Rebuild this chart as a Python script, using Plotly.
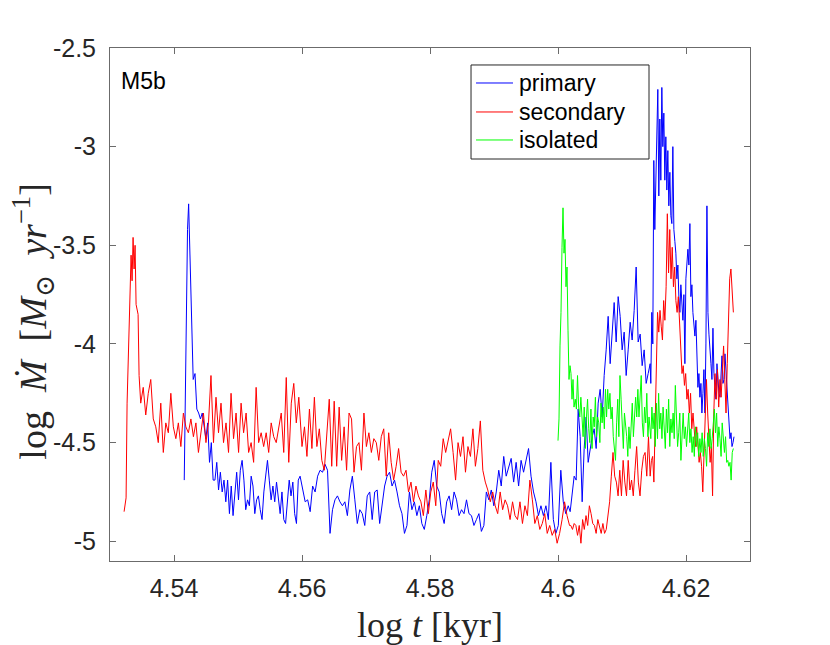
import numpy as np
import plotly.graph_objects as go

# ---- data: log t [kyr] segments and log Mdot values ----

# primary (blue)
t_primary = [(4.5416, 4.5428), (4.5430, 4.5597), (4.5605, 4.6016), (4.6019, 4.6144), (4.6145, 4.6275)]
primary_rise = [-4.69, -4.18, -3.67, -3.42, -3.29, -3.50, -3.67, -3.89]
primary_decay = [-4.18, -4.15, -4.33, -4.35, -4.38, -4.35, -4.42, -4.48, -4.40, -4.60,
                 -4.50, -4.69, -4.69, -4.60, -4.74, -4.65, -4.75, -4.69, -4.80, -4.69,
                 -4.86, -4.72, -4.87, -4.77, -4.65, -4.79, -4.64, -4.59, -4.69, -4.84,
                 -4.79, -4.82, -4.67, -4.72, -4.86, -4.79, -4.77, -4.84, -4.89, -4.75,
                 -4.65, -4.59, -4.69, -4.79, -4.72, -4.80, -4.70, -4.79, -4.86, -4.75,
                 -4.89, -4.91, -4.79, -4.69, -4.77, -4.70, -4.86, -4.91, -4.69, -4.67]
primary_low = [-4.80, -4.79, -4.85, -4.72, -4.75, -4.67, -4.64, -4.65, -4.61, -4.64,
               -4.96, -4.84, -4.79, -4.77, -4.80, -4.82, -4.80, -4.87, -4.74, -4.67,
               -4.79, -4.91, -4.84, -4.86, -4.92, -4.77, -4.75, -4.89, -4.75, -4.74,
               -4.91, -4.82, -4.72, -4.67, -4.65, -4.72, -4.69, -4.75, -4.82, -4.86,
               -4.96, -4.92, -4.75, -4.84, -4.80, -4.87, -4.82, -4.91, -4.94, -4.87,
               -4.79, -4.65, -4.59, -4.72, -4.75, -4.86, -4.91, -4.80, -4.77, -4.84,
               -4.75, -4.79, -4.87, -4.84, -4.86, -4.79, -4.86, -4.87, -4.92, -4.89,
               -4.86, -4.95, -4.92, -4.75, -4.79, -4.74, -4.82, -4.75, -4.64, -4.72,
               -4.57, -4.67, -4.62, -4.58, -4.70, -4.60, -4.72, -4.59, -4.65, -4.59,
               -4.53, -4.67, -4.75, -4.80, -4.87, -4.82, -4.87, -4.82, -4.89, -4.60,
               -4.89, -4.96, -4.92, -4.64, -4.80, -4.86, -4.82]
primary_climb = [-4.85, -4.74, -4.67, -4.69,
                 -4.33, -4.47, -4.80, -4.53, -4.37, -4.60, -4.53, -4.47, -4.43, -4.53,
                 -4.30, -4.23, -4.37, -4.16, -4.03, -3.86, -4.10, -3.91, -3.79, -3.99,
                 -3.76, -3.86, -4.03, -3.94, -4.16, -4.03, -3.89, -3.98, -3.83, -3.61,
                 -3.99, -3.95, -4.11, -4.03, -4.20, -4.15, -4.10]
primary_burst = [-4.20, -3.84, -4.00, -3.07, -3.42, -3.20, -3.08, -2.71, -3.25, -2.86,
                 -3.17, -2.70, -3.00, -2.83, -3.17, -2.95, -3.22, -3.02, -3.30, -3.13,
                 -3.35, -3.39, -3.00, -3.42, -3.48, -3.54, -3.67, -3.60, -3.76, -3.84,
                 -3.70, -3.82, -3.88, -3.75, -4.10, -3.67, -3.60, -3.52, -3.60, -3.39,
                 -3.76, -3.70, -3.84, -3.90, -3.96, -3.88, -4.10, -4.22, -4.15, -4.27,
                 -4.20, -4.35, -4.25, -4.13, -4.35, -4.00, -3.30, -3.84, -3.95, -4.01,
                 -4.10, -4.18, -3.92, -4.15, -4.22, -4.28, -4.10, -4.18, -4.25, -4.27,
                 -4.15, -4.06, -4.20, -4.18, -4.05, -4.13, -4.25, -4.35, -4.40, -4.48,
                 -4.45, -4.52, -4.50, -4.47]

# secondary (red)
t_secondary = [(4.5322, 4.5347), (4.5348, 4.5595), (4.5600, 4.6018), (4.6020, 4.6144), (4.6146, 4.6274)]
secondary_rise = [-4.85, -4.80, -4.78, -4.30, -4.10, -3.96, -3.62, -3.55, -3.68, -3.46,
                  -3.62, -3.50, -3.80, -3.82, -3.85, -4.16, -4.22]
secondary_plateau = [-4.30, -4.22, -4.36, -4.25, -4.18, -4.38, -4.42, -4.50, -4.30, -4.55,
                     -4.40, -4.45, -4.25, -4.42, -4.48, -4.40, -4.52, -4.35, -4.42, -4.45,
                     -4.38, -4.47, -4.40, -4.55, -4.45, -4.35, -4.50, -4.40, -4.16, -4.50,
                     -4.27, -4.45, -4.30, -4.50, -4.40, -4.55, -4.25, -4.48, -4.35, -4.55,
                     -4.30, -4.45, -4.35, -4.55, -4.50, -4.60, -4.22, -4.50, -4.45, -4.52,
                     -4.45, -4.55, -4.40, -4.47, -4.50, -4.42, -4.35, -4.55, -4.17, -4.60,
                     -4.30, -4.20, -4.40, -4.27]
secondary_decline = [-4.52, -4.42, -4.57, -4.33, -4.53, -4.27, -4.52, -4.43, -4.59, -4.64,
                     -4.45, -4.28, -4.62, -4.29, -4.62, -4.32, -4.59, -4.42, -4.64, -4.35,
                     -4.38, -4.65, -4.52, -4.50, -4.64, -4.35, -4.52, -4.45, -4.55, -4.48,
                     -4.50, -4.59, -4.47, -4.43, -4.67, -4.45, -4.60, -4.69, -4.62, -4.53,
                     -4.65, -4.67, -4.64, -4.75, -4.70, -4.80, -4.72, -4.77, -4.80, -4.87,
                     -4.74, -4.86, -4.75, -4.70, -4.82, -4.59, -4.62, -4.48, -4.55, -4.48,
                     -4.43, -4.55, -4.69, -4.50, -4.57, -4.47, -4.65, -4.52, -4.57, -4.43,
                     -4.62, -4.53, -4.39, -4.64, -4.70, -4.74, -4.80, -4.75, -4.82, -4.86,
                     -4.75, -4.84, -4.79, -4.82, -4.89, -4.80, -4.87, -4.89, -4.80, -4.91,
                     -4.82, -4.87, -4.69, -4.79, -4.91, -4.87, -4.94, -4.91, -4.86, -4.96,
                     -4.92, -4.97, -4.94, -5.01, -4.96, -4.89, -4.80, -4.87, -4.92]
secondary_floor = [-4.92, -4.94, -4.91, -4.92, -4.97, -4.92, -5.01, -4.89, -4.94, -4.87,
                   -4.92, -4.82, -4.86, -4.91, -4.92, -4.96, -4.89, -4.92, -4.96, -4.91,
                   -4.96, -4.94, -4.86, -4.80, -4.67, -4.55, -4.67, -4.70, -4.77, -4.64,
                   -4.77, -4.59, -4.70, -4.77, -4.59, -4.74, -4.69, -4.77, -4.64, -4.52,
                   -4.70, -4.77, -4.64, -4.57, -4.55, -4.67, -4.47, -4.67]
secondary_burst = [-4.59, -4.57, -4.70, -4.45, -4.13, -3.84, -3.94, -3.83, -3.91, -3.98,
                   -3.78, -3.88, -3.71, -3.34, -3.64, -3.42, -3.67, -3.51, -3.71, -3.61,
                   -3.78, -3.84, -3.76, -3.91, -4.01, -4.15, -4.11, -4.21, -4.15, -4.28,
                   -4.23, -4.35, -4.25, -4.43, -4.35, -4.43, -4.52, -4.42, -4.53, -4.60,
                   -4.55, -4.62, -4.75, -4.52, -4.43, -4.18, -4.35, -4.50, -4.60, -4.52,
                   -4.77, -4.35, -4.15, -4.28, -4.13, -4.32, -4.18, -4.27, -4.11, -4.01,
                   -4.18, -4.35, -4.10, -3.84, -3.67, -3.62, -3.73, -3.84]

# isolated (green)
t_isolated = [(4.6000, 4.6025), (4.6027, 4.6144), (4.6145, 4.6274)]
isolated_rise = [-4.49, -4.38, -4.01, -3.84, -3.51, -3.31, -3.54, -3.47, -3.71, -3.61,
                 -3.93, -4.18, -4.11, -4.15, -4.28, -4.18, -4.32]
isolated_mid = [-4.28, -4.33, -4.16, -4.32, -4.37, -4.27, -4.40, -4.47, -4.32, -4.53,
                -4.37, -4.28, -4.43, -4.50, -4.33, -4.53, -4.37, -4.42, -4.27, -4.47,
                -4.37, -4.40, -4.50, -4.30, -4.40, -4.32, -4.43, -4.23, -4.37, -4.23,
                -4.33, -4.25, -4.38, -4.32, -4.47, -4.55, -4.59, -4.40, -4.28, -4.47,
                -4.16, -4.28, -4.43, -4.53, -4.35, -4.40, -4.47, -4.57, -4.42, -4.53,
                -4.43, -4.30, -4.47, -4.33, -4.27, -4.37, -4.23, -4.37, -4.28, -4.16,
                -4.40, -4.47, -4.32, -4.40, -4.25, -4.47, -4.37, -4.43]
isolated_late = [-4.48, -4.32, -4.43, -4.35, -4.52, -4.30, -4.48, -4.25, -4.43, -4.35,
                 -4.48, -4.32, -4.43, -4.53, -4.33, -4.45, -4.28, -4.52, -4.38, -4.45,
                 -4.35, -4.48, -4.21, -4.42, -4.52, -4.45, -4.35, -4.59, -4.45, -4.35,
                 -4.48, -4.42, -4.52, -4.45, -4.35, -4.50, -4.43, -4.55, -4.47, -4.57,
                 -4.42, -4.52, -4.45, -4.57, -4.48, -4.55, -4.45, -4.57, -4.48, -4.53,
                 -4.62, -4.45, -4.52, -4.43, -4.53, -4.48, -4.42, -4.33, -4.45, -4.35,
                 -4.52, -4.42, -4.48, -4.57, -4.40, -4.48, -4.55, -4.47, -4.60, -4.59,
                 -4.62, -4.60, -4.69, -4.55, -4.53]

series_names = ['primary', 'secondary', 'isolated']
series_colors = ['#0000ff', '#ff0000', '#00ff00']

x_ticks = [4.54, 4.56, 4.58, 4.6, 4.62]
x_ticktext = ['4.54', '4.56', '4.58', '4.6', '4.62']
y_ticks = [-5, -4.5, -4, -3.5, -3, -2.5]
y_ticktext = ['-5', '-4.5', '-4', '-3.5', '-3', '-2.5']


def build(bounds, parts):
    # each part is sampled evenly between its start and end time
    tt, yy = [], []
    for (t0, t1), vals in zip(bounds, parts):
        tt.extend(np.linspace(t0, t1, len(vals)))
        yy.extend(vals)
    return tt, yy


curves = [
    build(t_primary, [primary_rise, primary_decay, primary_low, primary_climb, primary_burst]),
    build(t_secondary, [secondary_rise, secondary_plateau, secondary_decline, secondary_floor, secondary_burst]),
    build(t_isolated, [isolated_rise, isolated_mid, isolated_late]),
]

fig = go.Figure()
for (tt, yy), name, col in zip(curves, series_names, series_colors):
    fig.add_trace(go.Scatter(x=tt, y=yy, mode='lines', name=name,
                             line=dict(color=col, width=1), showlegend=False))

axis_col = '#6b6b6b'
tick_font = dict(family='Liberation Sans, Arial', size=25, color='#262626')

fig.update_xaxes(range=[4.53, 4.63], tickvals=x_ticks, ticktext=x_ticktext,
                 showline=True, linecolor=axis_col, linewidth=1, mirror='ticks',
                 ticks='inside', ticklen=6, tickcolor=axis_col, showgrid=False,
                 zeroline=False, tickfont=tick_font, ticklabelstandoff=5)
fig.update_yaxes(range=[-5.1, -2.5], tickvals=y_ticks, ticktext=y_ticktext,
                 showline=True, linecolor=axis_col, linewidth=1, mirror='ticks',
                 ticks='inside', ticklen=6, tickcolor=axis_col, showgrid=False,
                 zeroline=False, tickfont=tick_font, ticklabelstandoff=8)

serif = 'Liberation Serif, DejaVu Serif, serif'
fig.add_annotation(text='log <i>t</i> [kyr]', xref='paper', yref='paper', x=0.5, y=-0.125,
                   xanchor='center', yanchor='middle',
                   showarrow=False, font=dict(family=serif, size=36, color='#262626'))
fig.add_annotation(text='log\u00a0 <i>\u1e40</i>\u00a0 [<i>M</i><sub>\u2299</sub>\u00a0 <i>yr</i><sup>\u22121</sup>]',
                   xref='paper', yref='paper', x=-0.12, y=0.467, textangle=-90,
                   xanchor='center', yanchor='middle',
                   showarrow=False, font=dict(family=serif, size=38, color='#262626'))
fig.add_annotation(text='M5b', xref='paper', yref='paper', x=0.014, y=0.935,
                   xanchor='left', yanchor='middle', showarrow=False,
                   font=dict(family='Liberation Sans, Arial', size=23, color='black'))

# legend drawn by hand: MATLAB-style box with tight rows
leg_x0, leg_x1, leg_y0, leg_y1 = 0.5641, 0.8422, 0.7836, 0.9669
row_y = [0.9318, 0.8753, 0.8207]
fig.add_shape(type='rect', xref='paper', yref='paper', x0=leg_x0, x1=leg_x1, y0=leg_y0, y1=leg_y1,
              line=dict(color='#262626', width=1), fillcolor='white', layer='above')
for name, col, ry in zip(series_names, series_colors, row_y):
    fig.add_shape(type='line', xref='paper', yref='paper', x0=0.5719, x1=0.6297, y0=ry, y1=ry,
                  line=dict(color=col, width=1), layer='above')
    fig.add_annotation(text=name, xref='paper', yref='paper', x=0.6359, y=ry,
                       xanchor='left', yanchor='middle', showarrow=False,
                       font=dict(family='Liberation Sans, Arial', size=23, color='black'))

# the page body adds an 8px offset, so the margins are shifted to keep the plot box in place
fig.update_layout(
    width=830, height=645,
    margin=dict(l=102, r=88, t=40, b=92),
    paper_bgcolor='white', plot_bgcolor='white',
    showlegend=False,
)

fig.write_html('out.html')
